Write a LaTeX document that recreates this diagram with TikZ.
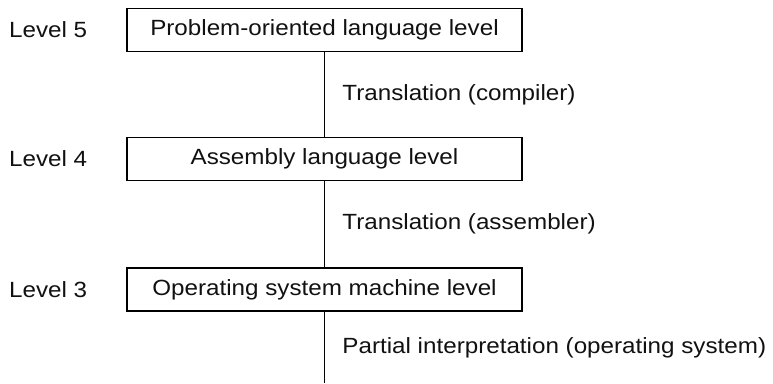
\documentclass[tikz,border=0pt]{standalone}
\usepackage{fontspec}
\setmainfont{Liberation Sans}[FakeStretch=1.1]
\usepackage{tikz}
\usetikzlibrary{positioning, calc}
\definecolor{tinta}{HTML}{000000}
\definecolor{texto}{HTML}{111111}
\tikzset{
  capa/.style={rectangle, minimum width=395pt, minimum height=43pt, text centered,
               draw=tinta, line width=1.9pt, fill=white, inner sep=0pt,
               font=\fontsize{22}{26}\selectfont, text=texto},
  nivel/.style={anchor=west, inner sep=0pt, font=\fontsize{22}{26}\selectfont, text=texto},
  paso/.style={anchor=west, inner sep=0pt, font=\fontsize{22}{26}\selectfont, text=texto},
  linea/.style={line width=1.9pt, color=tinta}
}
\begin{document}
\begin{tikzpicture}[x=1pt, y=-1pt]
  \useasboundingbox (0,0) rectangle (773,383);
  \node (capa5) [capa] at (324.5,30) {Problem-oriented language level};
  \node (capa4) [capa] at (324.5,159) {Assembly language level};
  \node (capa3) [capa] at (324.5,289.5) {Operating system machine level};
  \coordinate (fin) at (324.5,383);
  \node (niv5) [nivel] at (9,30) {Level 5};
  \node (niv4) [nivel] at (9,159) {Level 4};
  \node (niv3) [nivel] at (9,289.5) {Level 3};
  \draw [linea] (capa5.south) -- (capa4.north) node[paso, midway, xshift=17pt] {Translation (compiler)};
  \draw [linea] (capa4.south) -- (capa3.north) node[paso, midway, xshift=17pt] {Translation (assembler)};
  \draw [linea] (capa3.south) -- (fin) node[paso, midway, xshift=17pt] {Partial interpretation (operating system)};
\end{tikzpicture}
\end{document}
